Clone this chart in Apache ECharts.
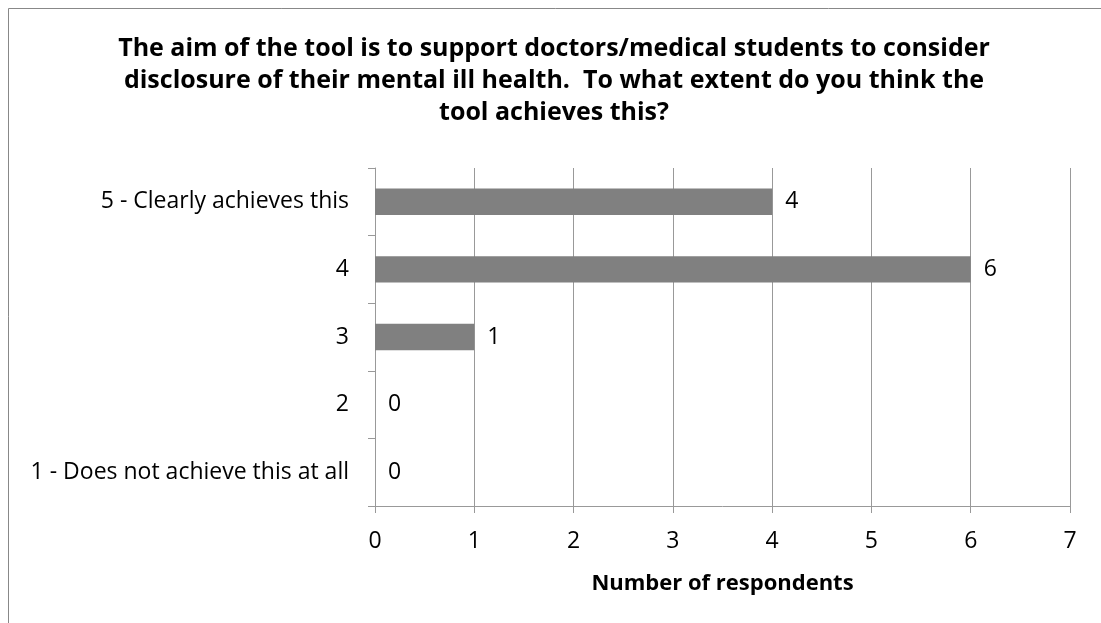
<!DOCTYPE html>
<html><head><meta charset="utf-8">
<script src="https://cdn.jsdelivr.net/npm/echarts@6/dist/echarts.min.js"></script>
<style>html,body{margin:0;padding:0;background:#fff}#c{width:1101px;height:623px}</style>
</head><body><div id="c"></div>
<script>
const titleText = "The aim of the tool is to support doctors/medical students to consider\ndisclosure of their mental ill health.  To what extent do you think the\ntool achieves this?";
const categories = ["1 - Does not achieve this at all", "2", "3", "4", "5 - Clearly achieves this"];
const values = [0, 0, 1, 6, 4];
const xTicks = [0, 1, 2, 3, 4, 5, 6, 7];
const xAxisName = "Number of respondents";
const font = "'Open Sans', sans-serif";

const chart = echarts.init(document.getElementById('c'), null, {renderer: 'canvas'});
chart.setOption({
  animation: false,
  backgroundColor: '#fff',
  title: {
    text: titleText, left: 549, top: 28, textAlign: 'center',
    textStyle: {fontFamily: font, fontWeight: 'bold', fontSize: 25, lineHeight: 32, color: '#000'}
  },
  graphic: [{type: 'rect', shape: {x: 8.5, y: 8.5, width: 1200, height: 700}, style: {fill: 'none', stroke: '#888', lineWidth: 1}, silent: true}],
  grid: {left: 375, right: 31, top: 168, bottom: 117},
  xAxis: {
    type: 'value', min: xTicks[0], max: xTicks[xTicks.length - 1], interval: 1,
    name: xAxisName, nameLocation: 'middle', nameGap: 67,
    nameTextStyle: {fontFamily: font, fontWeight: 'bold', fontSize: 22, color: '#000'},
    axisLine: {show: true, lineStyle: {color: '#999'}},
    axisTick: {show: true, length: 7, lineStyle: {color: '#999'}},
    axisLabel: {fontFamily: font, fontSize: 23, color: '#000', margin: 24},
    splitLine: {show: true, lineStyle: {color: '#999', width: 1}}
  },
  yAxis: {
    type: 'category', data: categories,
    axisLine: {show: true, lineStyle: {color: '#999'}},
    axisTick: {show: true, length: 7, lineStyle: {color: '#999'}},
    axisLabel: {fontFamily: font, fontSize: 23, color: '#000', margin: 26}
  },
  series: [{
    type: 'bar', data: values, barWidth: '39%',
    itemStyle: {color: '#808080'},
    label: {show: true, position: 'right', distance: 13, fontFamily: font, fontSize: 23, color: '#000'}
  }]
});
</script></body></html>
